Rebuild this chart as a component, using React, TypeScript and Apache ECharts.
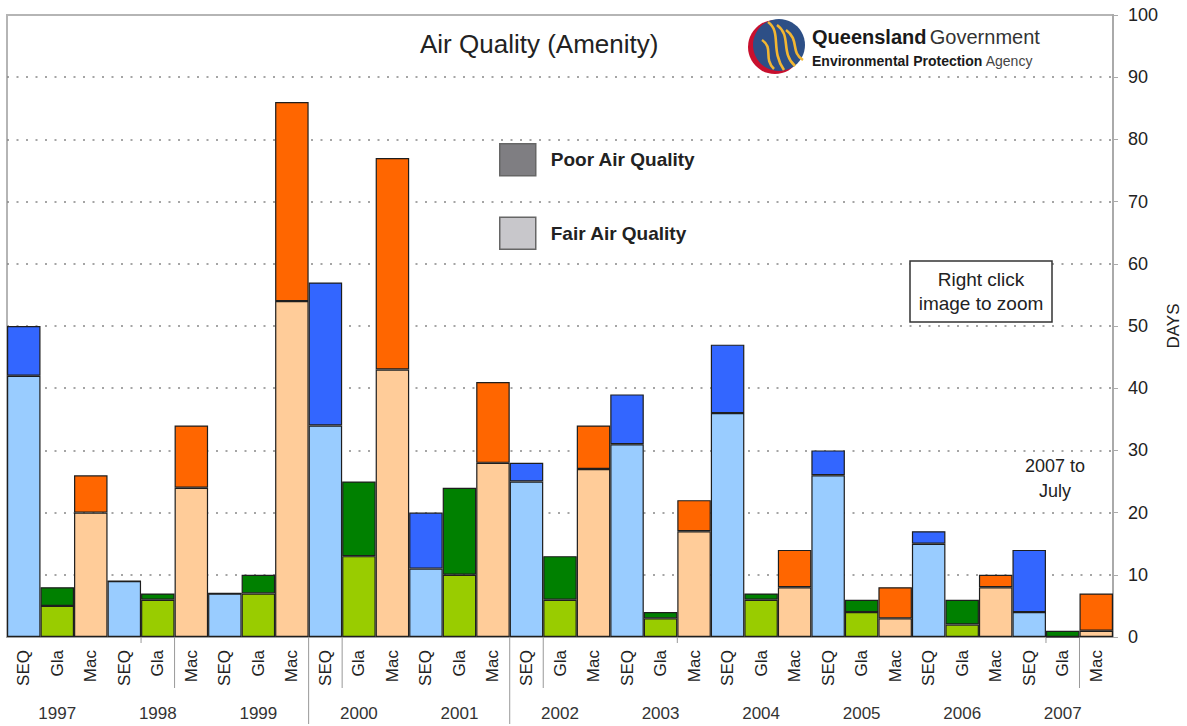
import React, { useEffect, useRef } from "react";
import * as echarts from "echarts";

const years = ["1997", "1998", "1999", "2000", "2001", "2002", "2003", "2004", "2005", "2006", "2007"];
const sites = ["SEQ", "Gla", "Mac"];

const seqFair = [42, 9, 7, 34, 11, 25, 31, 36, 26, 15, 4];
const seqPoor = [8, 0, 0, 23, 9, 3, 8, 11, 4, 2, 10];
const glaFair = [5, 6, 7, 13, 10, 6, 3, 6, 4, 2, 0];
const glaPoor = [3, 1, 3, 12, 14, 7, 1, 1, 2, 4, 1];
const macFair = [20, 24, 54, 43, 28, 27, 17, 8, 3, 8, 1];
const macPoor = [6, 10, 32, 34, 13, 7, 5, 6, 5, 2, 6];

const fairColors: Record<string, string> = { SEQ: "#99ccff", Gla: "#99cc00", Mac: "#ffcc99" };
const poorColors: Record<string, string> = { SEQ: "#3366ff", Gla: "#008000", Mac: "#ff6600" };

// category-boundary indexes of the separator strokes under the axis
const sepShort = [4, 20, 31];
const sepMedium = [5, 10, 16, 32];
const sepLong = [9, 15];

const FONT = "'Liberation Sans', Arial, sans-serif";

export default function App() {
  const ref = useRef<HTMLDivElement>(null);

  useEffect(() => {
    if (!ref.current) return;
    const chart = echarts.init(ref.current, null, { renderer: "svg" });

    const categories = years.flatMap((y) => sites.map((s) => `${y} ${s}`));
    const fairBy: Record<string, number[]> = { SEQ: seqFair, Gla: glaFair, Mac: macFair };
    const poorBy: Record<string, number[]> = { SEQ: seqPoor, Gla: glaPoor, Mac: macPoor };
    const fairData = years.flatMap((_, i) =>
      sites.map((s) => ({ value: fairBy[s][i], itemStyle: { color: fairColors[s] } }))
    );
    const poorData = years.flatMap((_, i) =>
      sites.map((s) => ({ value: poorBy[s][i], itemStyle: { color: poorColors[s] } }))
    );

    const barStyle = { borderColor: "#1e1e1e", borderWidth: 1.2 };

    chart.setOption({
      animation: false,
      backgroundColor: "#ffffff",
      title: {
        text: "Air Quality (Amenity)",
        left: 415,
        top: 26,
        textStyle: { fontFamily: FONT, fontSize: 26, fontWeight: "normal", color: "#222" },
      },
      legend: {
        data: ["Poor Air Quality", "Fair Air Quality"],
        orient: "vertical",
        left: 494,
        top: 138,
        itemWidth: 36,
        itemHeight: 32,
        itemGap: 40,
        selectedMode: false,
        icon: "rect",
        itemStyle: { borderColor: "#666", borderWidth: 1.5 },
        textStyle: {
          fontFamily: FONT,
          fontSize: 19,
          fontWeight: "bold",
          color: "#222",
          padding: [0, 0, 0, 10],
        },
      },
      grid: {
        left: 7,
        right: 74,
        top: 15,
        bottom: 89,
        outerBoundsMode: "none",
        containLabel: false,
        show: true,
        borderColor: "#b5b5b5",
        borderWidth: 2,
        backgroundColor: "transparent",
      },
      xAxis: [
        {
          type: "category",
          data: categories,
          position: "bottom",
          axisLine: { show: true, lineStyle: { color: "#999", width: 1.5 } },
          axisTick: { show: false },
          axisLabel: {
            interval: 0,
            rotate: 90,
            margin: 13,
            fontFamily: FONT,
            fontSize: 17,
            color: "#222",
            formatter: (v: string) => v.split(" ")[1],
          },
          splitLine: { show: false },
        },
        {
          type: "category",
          data: years,
          position: "bottom",
          axisLine: { show: false },
          axisTick: { show: false },
          axisLabel: {
            interval: 0,
            margin: 68,
            fontFamily: FONT,
            fontSize: 17,
            color: "#333",
          },
          splitLine: { show: false },
        },
      ],
      yAxis: {
        type: "value",
        position: "right",
        min: 0,
        max: 100,
        interval: 10,
        name: "DAYS",
        nameLocation: "middle",
        nameRotate: 90,
        nameGap: 52,
        nameMoveOverlap: false,
        nameTextStyle: { fontFamily: FONT, fontSize: 17, color: "#222" },
        axisLine: { show: true, lineStyle: { color: "#aaa", width: 2 } },
        axisTick: { show: true, length: 5, lineStyle: { color: "#aaa" } },
        axisLabel: { margin: 15, fontFamily: FONT, fontSize: 18, color: "#222" },
        splitLine: {
          show: true,
          showMinLine: false,
          showMaxLine: false,
          lineStyle: { type: [2, 7.5], color: "#888", width: 1.5 },
        },
      },
      series: [
        {
          name: "Fair Air Quality",
          type: "bar",
          stack: "days",
          xAxisIndex: 0,
          barCategoryGap: "0%",
          itemStyle: { ...barStyle, color: "#c8c7cb" },
          data: fairData,
        },
        {
          name: "Poor Air Quality",
          type: "bar",
          stack: "days",
          xAxisIndex: 0,
          barCategoryGap: "0%",
          itemStyle: { ...barStyle, color: "#7f7e82" },
          data: poorData,
        },
      ],
    });

    // separators under the category axis, placed through the axis scale
    const p0 = chart.convertToPixel({ xAxisIndex: 0 }, 0) as number;
    const p1 = chart.convertToPixel({ xAxisIndex: 0 }, 1) as number;
    const band = p1 - p0;
    const yBase = chart.convertToPixel({ yAxisIndex: 0 }, 0) as number;
    const sepLine = (k: number, len: number) => ({
      type: "line",
      silent: true,
      shape: { x1: p0 - band / 2 + k * band, y1: yBase, x2: p0 - band / 2 + k * band, y2: yBase + len },
      style: { stroke: "#999", lineWidth: 1 },
    });
    const separators = [
      ...sepShort.map((k) => sepLine(k, 6)),
      ...sepMedium.map((k) => sepLine(k, 51)),
      ...sepLong.map((k) => sepLine(k, 87)),
    ];

    const strand = (x1: number, y1: number, c1x: number, c1y: number, c2x: number, c2y: number, x2: number, y2: number) => ({
      type: "bezierCurve",
      silent: true,
      shape: { x1, y1, cpx1: c1x, cpy1: c1y, cpx2: c2x, cpy2: c2y, x2, y2 },
      style: { stroke: "#f2b632", lineWidth: 2.6, fill: null },
    });

    const logo = [
      { type: "circle", silent: true, shape: { cx: 775, cy: 47, r: 27 }, style: { fill: "#c8102e" } },
      { type: "circle", silent: true, shape: { cx: 779, cy: 45, r: 26 }, style: { fill: "#2d4f86" } },
      strand(768, 22, 782, 32, 770, 50, 784, 70),
      strand(777, 25, 792, 36, 780, 52, 795, 66),
      strand(786, 30, 800, 40, 790, 52, 803, 60),
      strand(762, 40, 774, 48, 763, 58, 774, 69),
      {
        type: "text",
        silent: true,
        x: 812,
        y: 37,
        style: {
          text: "{a|Queensland} {b|Government}",
          verticalAlign: "middle",
          rich: {
            a: { fontFamily: FONT, fontSize: 20, fontWeight: "bold", fill: "#1a1a1a", color: "#1a1a1a" },
            b: { fontFamily: FONT, fontSize: 20, fill: "#333", color: "#333" },
          },
        },
      },
      {
        type: "text",
        silent: true,
        x: 812,
        y: 61,
        style: {
          text: "{a|Environmental Protection} {b|Agency}",
          verticalAlign: "middle",
          rich: {
            a: { fontFamily: FONT, fontSize: 14, fontWeight: "bold", fill: "#1a1a1a", color: "#1a1a1a" },
            b: { fontFamily: FONT, fontSize: 14, fill: "#444", color: "#444" },
          },
        },
      },
    ];

    const notes = [
      {
        type: "rect",
        silent: true,
        shape: { x: 910, y: 261, width: 142, height: 61 },
        style: { fill: "#fff", stroke: "#333", lineWidth: 1.5 },
      },
      {
        type: "text",
        silent: true,
        x: 981,
        y: 279,
        style: { text: "Right click", font: `19px ${FONT}`, fill: "#222", align: "center", verticalAlign: "middle" },
      },
      {
        type: "text",
        silent: true,
        x: 981,
        y: 303,
        style: { text: "image to zoom", font: `19px ${FONT}`, fill: "#222", align: "center", verticalAlign: "middle" },
      },
      {
        type: "text",
        silent: true,
        x: 1055,
        y: 466,
        style: { text: "2007 to", font: `18px ${FONT}`, fill: "#222", align: "center", verticalAlign: "middle" },
      },
      {
        type: "text",
        silent: true,
        x: 1055,
        y: 491,
        style: { text: "July", font: `18px ${FONT}`, fill: "#222", align: "center", verticalAlign: "middle" },
      },
    ];

    chart.setOption({ graphic: [...separators, ...logo, ...notes] });

    return () => chart.dispose();
  }, []);

  return (
    <div
      ref={ref}
      style={{ position: "fixed", left: 0, top: 0, width: 1187, height: 726, background: "#fff" }}
    />
  );
}
